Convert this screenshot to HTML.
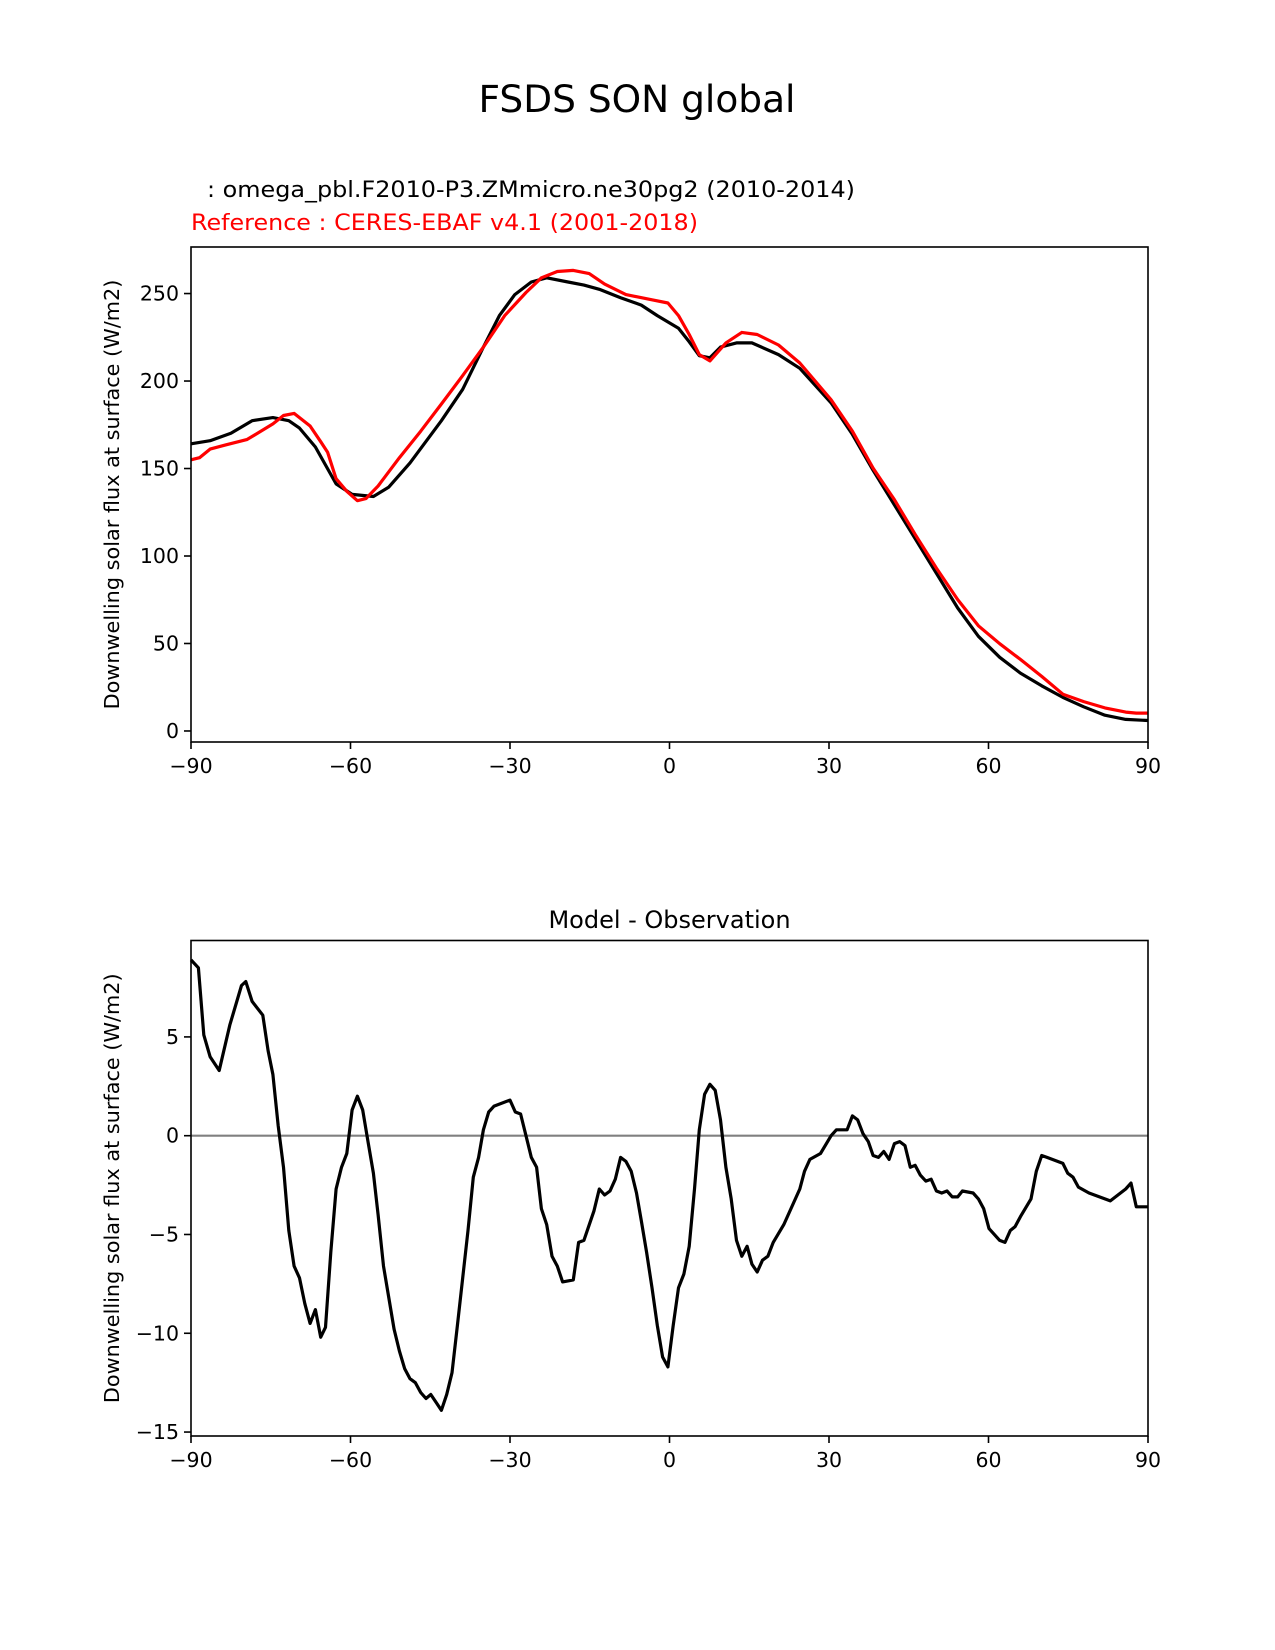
<!DOCTYPE html>
<html><head><meta charset="utf-8"><style>
html,body{margin:0;padding:0;background:#fff;}
svg{display:block;font-family:"DejaVu Sans","Liberation Sans",sans-serif;}
</style></head><body>
<svg id="fig" width="1275" height="1650" viewBox="0 0 1275 1650">
<text x="637" y="112" font-size="37.5" text-anchor="middle">FSDS SON global</text>
<text x="207" y="197" font-size="22.5" textLength="648" lengthAdjust="spacingAndGlyphs">: omega_pbl.F2010-P3.ZMmicro.ne30pg2 (2010-2014)</text>
<text x="191" y="230" font-size="22.5" fill="#ff0000" textLength="507" lengthAdjust="spacingAndGlyphs">Reference : CERES-EBAF v4.1 (2001-2018)</text>
<text x="669.5" y="928" font-size="24" text-anchor="middle">Model - Observation</text>
<g id="top"></g>
<g id="bot"></g>
</svg>
<script>
const modelLat=[-90,-86.4,-82.5,-78.5,-74.6,-71.6,-69.6,-66.6,-62.7,-59.7,-55.7,-52.8,-48.8,-42.9,-38.9,-35.0,-32.0,-29.1,-26.0,-23.1,-19.1,-16.1,-13.2,-9.2,-5.3,-2.3,1.7,3.7,5.6,7.6,9.6,12.6,15.5,20.5,24.5,30.4,34.4,38.3,42.3,46.2,50.2,54.2,58.1,62.1,66.0,70.0,74.0,77.9,81.9,85.8,90];
const modelVal=[164.1,165.9,170.1,177.3,179.1,177.3,173.1,162.3,141.2,135.2,134.0,139.4,153.2,177.3,195.3,219.4,237.4,249.4,256.6,259.0,256.6,254.8,252.4,247.6,243.4,237.4,230.2,222.4,214.5,213.3,219.4,221.8,221.8,215.1,207.3,187.5,169.5,149.0,129.2,110.0,90.1,70.3,54.1,42.1,33.1,25.8,19.2,13.8,9.0,6.6,6.0];
const obsLat=[-90,-88.4,-86.4,-83.5,-79.5,-77.5,-74.6,-72.6,-70.6,-67.6,-65.6,-64.3,-62.7,-60.7,-58.7,-57.1,-54.8,-50.8,-46.8,-42.9,-38.9,-35.0,-31.0,-27.0,-24.1,-21.1,-18.1,-15.1,-12.2,-8.2,-3.3,-0.3,1.7,3.7,5.6,7.6,10.6,13.6,16.5,20.5,24.5,30.4,34.4,38.3,42.3,46.2,50.2,54.2,58.1,62.1,66.0,70.0,74.0,77.9,81.9,85.8,87.8,90];
const obsVal=[155.0,156.2,161.1,163.5,166.5,170.1,175.5,180.3,181.5,174.3,165.3,159.3,144.2,137.0,131.6,132.8,140.0,156.2,171.3,186.9,203.1,219.4,237.4,250.6,259.0,262.6,263.2,261.4,255.4,249.4,246.4,244.6,237.4,226.6,215.1,211.5,221.8,227.8,226.6,220.6,210.3,189.3,171.3,150.2,132.2,112.4,93.1,75.1,60.1,49.9,40.9,31.2,21.0,16.8,13.2,10.8,10.2,10.2];
const diffLat=[-90.0,-88.6,-87.6,-86.4,-84.7,-82.7,-80.5,-79.7,-78.5,-76.5,-75.5,-74.6,-73.6,-72.6,-71.6,-70.6,-69.6,-68.6,-67.6,-66.6,-65.6,-64.7,-63.7,-62.7,-61.7,-60.7,-59.7,-58.7,-57.7,-56.7,-55.7,-54.8,-53.8,-52.8,-51.8,-50.8,-49.8,-48.8,-47.8,-46.8,-45.8,-44.9,-43.9,-42.9,-41.9,-40.9,-39.9,-38.9,-37.9,-36.9,-35.9,-35.0,-34.0,-33.0,-30.0,-29.0,-28.0,-27.0,-26.0,-25.0,-24.1,-23.1,-22.1,-21.1,-20.1,-18.1,-17.1,-16.1,-14.2,-13.2,-12.2,-11.2,-10.2,-9.2,-8.2,-7.2,-6.2,-5.3,-4.3,-3.3,-2.3,-1.3,-0.3,0.7,1.7,2.7,3.7,4.7,5.6,6.6,7.6,8.6,9.6,10.6,11.6,12.6,13.6,14.6,15.5,16.5,17.5,18.5,19.5,21.5,24.5,25.4,26.4,28.4,30.4,31.4,33.4,34.4,35.4,36.4,37.4,38.3,39.3,40.3,41.3,42.3,43.3,44.3,45.3,46.2,47.2,48.2,49.2,50.2,51.2,52.2,53.2,54.2,55.1,57.1,58.1,59.1,60.1,62.1,63.1,64.1,65.0,66.0,68.0,69.0,70.0,71.0,74.0,74.9,75.9,76.9,78.9,81.9,82.9,85.8,86.8,87.8,90.0];
const diffVal=[8.9,8.5,5.1,4.0,3.3,5.6,7.6,7.8,6.8,6.1,4.3,3.1,0.5,-1.6,-4.8,-6.6,-7.2,-8.5,-9.5,-8.8,-10.2,-9.7,-5.9,-2.7,-1.6,-0.9,1.3,2.0,1.3,-0.3,-1.9,-4.0,-6.6,-8.2,-9.8,-10.9,-11.8,-12.3,-12.5,-13.0,-13.3,-13.1,-13.5,-13.9,-13.1,-12.0,-9.6,-7.2,-4.8,-2.1,-1.1,0.3,1.2,1.5,1.8,1.2,1.1,0.0,-1.1,-1.6,-3.7,-4.5,-6.1,-6.6,-7.4,-7.3,-5.4,-5.3,-3.8,-2.7,-3.0,-2.8,-2.2,-1.1,-1.3,-1.8,-2.9,-4.3,-5.9,-7.7,-9.6,-11.2,-11.7,-9.6,-7.7,-7.0,-5.6,-2.7,0.3,2.1,2.6,2.3,0.8,-1.6,-3.2,-5.3,-6.1,-5.6,-6.5,-6.9,-6.3,-6.1,-5.4,-4.5,-2.7,-1.8,-1.2,-0.9,0.0,0.3,0.3,1.0,0.8,0.1,-0.3,-1.0,-1.1,-0.8,-1.2,-0.4,-0.3,-0.5,-1.6,-1.5,-2.0,-2.3,-2.2,-2.8,-2.9,-2.8,-3.1,-3.1,-2.8,-2.9,-3.2,-3.7,-4.7,-5.3,-5.4,-4.8,-4.6,-4.1,-3.2,-1.8,-1.0,-1.1,-1.4,-1.9,-2.1,-2.6,-2.9,-3.2,-3.3,-2.7,-2.4,-3.6,-3.6];
const xTicks=[-90,-60,-30,0,30,60,90];
const xTickLabels=["\u221290","\u221260","\u221230","0","30","60","90"];
const topTicks=[0,50,100,150,200,250];
const botTicks=[-15,-10,-5,0,5];
const botTickLabels=["\u221215","\u221210","\u22125","0","5"];

const NS="http://www.w3.org/2000/svg";
const X0=191,X1=1148;
const xs=v=>X0+(v+90)/180*(X1-X0);
function el(p,t,a){const e=document.createElementNS(NS,t);for(const k in a)e.setAttribute(k,a[k]);p.appendChild(e);return e;}
function panel(g,top,bot,ymin,ymax,ticks,labels,series,zero){
  const ys=v=>bot-(v-ymin)/(ymax-ymin)*(bot-top);
  if(zero){const z=el(g,'line',{x1:X0,x2:X1,y1:ys(0),y2:ys(0),stroke:'#808080','stroke-width':2.2});
    
    }
  series.forEach(s=>{
    const d=s.lat.map((la,i)=>(i?'L':'M')+xs(la).toFixed(1)+','+ys(s.val[i]).toFixed(1)).join('');
    const p=el(g,'path',{d:d,fill:'none',stroke:s.c,'stroke-width':3.2,'stroke-linejoin':'round'});
    
    
  });
  const r=el(g,'rect',{x:X0,y:top,width:X1-X0,height:bot-top,fill:'none',stroke:'#000','stroke-width':1.6});
  
  
  xTicks.forEach((t,i)=>{
    el(g,'line',{x1:xs(t),x2:xs(t),y1:bot,y2:bot+7,stroke:'#000','stroke-width':1.6});
    const tx=el(g,'text',{x:xs(t),y:bot+31,'font-size':20.5,'text-anchor':'middle'});tx.textContent=xTickLabels[i];
    
    
  });
  ticks.forEach((t,i)=>{
    el(g,'line',{x1:X0-7,x2:X0,y1:ys(t),y2:ys(t),stroke:'#000','stroke-width':1.6});
    const tx=el(g,'text',{x:X0-12,y:ys(t)+7,'font-size':20.5,'text-anchor':'end'});tx.textContent=labels[i];
    
    
  });
  const cy=(top+bot)/2;
  const yl=el(g,'text',{x:119,y:cy,'font-size':20.8,'text-anchor':'middle',transform:'rotate(-90 119 '+cy+')'});
  yl.textContent='Downwelling solar flux at surface (W/m2)';
  
  
}
panel(document.getElementById('top'),247,742,-6.3,276.6,topTicks,topTicks.map(String),
 [{lat:modelLat,val:modelVal,c:'#000',n:'model-line'},{lat:obsLat,val:obsVal,c:'#ff0000',n:'observation-line'}],false);
panel(document.getElementById('bot'),940.5,1436,-15.2,9.88,botTicks,botTickLabels,
 [{lat:diffLat,val:diffVal,c:'#000',n:'difference-line'}],true);
</script>
</body></html>
